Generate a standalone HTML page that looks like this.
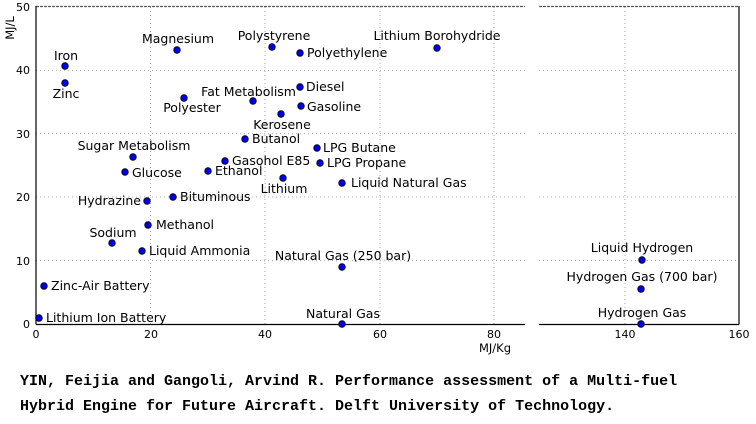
<!DOCTYPE html><html><head><meta charset="utf-8"><style>body{margin:0;background:#fff}svg{display:block}</style></head><body>
<svg width="756" height="424" xmlns="http://www.w3.org/2000/svg" font-family="DejaVu Sans, Liberation Sans, sans-serif" font-size="12.5">
<g stroke="#aaa" stroke-width="1" stroke-dasharray="1,3">
<line x1="150.5" y1="7" x2="150.5" y2="324"/><line x1="265" y1="7" x2="265" y2="324"/><line x1="380" y1="7" x2="380" y2="324"/><line x1="494" y1="7" x2="494" y2="324"/>
<line x1="625" y1="7" x2="625" y2="324"/>
<line x1="36" y1="260.6" x2="525" y2="260.6"/><line x1="36" y1="197" x2="525" y2="197"/><line x1="36" y1="133.8" x2="525" y2="133.8"/><line x1="36" y1="70.4" x2="525" y2="70.4"/>
<line x1="539" y1="260.6" x2="739" y2="260.6"/><line x1="539" y1="197" x2="739" y2="197"/><line x1="539" y1="133.8" x2="739" y2="133.8"/><line x1="539" y1="70.4" x2="739" y2="70.4"/>
</g>
<g stroke="#555" stroke-width="1.2" stroke-dasharray="3,1"><line x1="36" y1="6.5" x2="525" y2="6.5"/><line x1="539" y1="6.5" x2="739" y2="6.5"/></g>
<g stroke="#000" stroke-width="1.2" fill="none">
<line x1="36" y1="6" x2="36" y2="324.5"/><line x1="36" y1="324.5" x2="525" y2="324.5"/>
<line x1="539" y1="324.5" x2="739" y2="324.5"/><line x1="739" y1="6" x2="739" y2="324.5"/>
</g>
<g font-size="11" fill="#000">
<text x="30" y="328" text-anchor="end">0</text><text x="30" y="265" text-anchor="end">10</text><text x="30" y="201" text-anchor="end">20</text><text x="30" y="138" text-anchor="end">30</text><text x="30" y="74" text-anchor="end">40</text><text x="30" y="11" text-anchor="end">50</text>
<text x="36" y="338" text-anchor="middle">0</text><text x="151" y="338" text-anchor="middle">20</text><text x="265" y="338" text-anchor="middle">40</text><text x="380" y="338" text-anchor="middle">60</text><text x="494" y="338" text-anchor="middle">80</text>
<text x="625" y="338" text-anchor="middle">140</text><text x="739" y="338" text-anchor="middle">160</text>
</g>
<text x="495" y="352" text-anchor="middle" font-size="11.5">MJ/Kg</text>
<text transform="translate(14,28) rotate(-90)" text-anchor="middle" font-size="11.5">MJ/L</text>
<g fill="#0000ee" stroke="#000" stroke-width="0.8">
<circle cx="65" cy="66" r="3.3"/><circle cx="65" cy="83" r="3.3"/><circle cx="177" cy="50" r="3.3"/><circle cx="272" cy="47" r="3.3"/><circle cx="300" cy="53" r="3.3"/><circle cx="437" cy="48" r="3.3"/><circle cx="300" cy="87" r="3.3"/><circle cx="253" cy="101" r="3.3"/><circle cx="184" cy="98" r="3.3"/><circle cx="301" cy="106" r="3.3"/><circle cx="281" cy="114" r="3.3"/><circle cx="245" cy="139" r="3.3"/><circle cx="133" cy="157" r="3.3"/><circle cx="125" cy="172" r="3.3"/><circle cx="225" cy="161" r="3.3"/><circle cx="208" cy="171" r="3.3"/><circle cx="317" cy="148" r="3.3"/><circle cx="320" cy="163" r="3.3"/><circle cx="283" cy="178" r="3.3"/><circle cx="342" cy="183" r="3.3"/><circle cx="147" cy="201" r="3.3"/><circle cx="173" cy="197" r="3.3"/><circle cx="148" cy="225" r="3.3"/><circle cx="112" cy="243" r="3.3"/><circle cx="142" cy="251" r="3.3"/><circle cx="342" cy="267" r="3.3"/><circle cx="44" cy="286" r="3.3"/><circle cx="39" cy="318" r="3.3"/><circle cx="342" cy="324" r="3.3"/><circle cx="642" cy="260" r="3.3"/><circle cx="641" cy="289" r="3.3"/><circle cx="641" cy="324" r="3.3"/>
</g>
<g fill="#000">
<text x="66" y="60" text-anchor="middle">Iron</text>
<text x="66" y="98" text-anchor="middle">Zinc</text>
<text x="178" y="43" text-anchor="middle">Magnesium</text>
<text x="274" y="40" text-anchor="middle">Polystyrene</text>
<text x="307" y="57">Polyethylene</text>
<text x="437" y="40" text-anchor="middle">Lithium Borohydride</text>
<text x="306" y="91">Diesel</text>
<text x="296" y="96" text-anchor="end">Fat Metabolism</text>
<text x="192" y="112" text-anchor="middle">Polyester</text>
<text x="307" y="111">Gasoline</text>
<text x="282" y="129" text-anchor="middle">Kerosene</text>
<text x="252" y="143">Butanol</text>
<text x="134" y="150" text-anchor="middle">Sugar Metabolism</text>
<text x="132" y="177">Glucose</text>
<text x="232" y="165">Gasohol E85</text>
<text x="215" y="175">Ethanol</text>
<text x="323" y="152">LPG Butane</text>
<text x="327" y="167">LPG Propane</text>
<text x="284" y="193" text-anchor="middle">Lithium</text>
<text x="351" y="187">Liquid Natural Gas</text>
<text x="141" y="205" text-anchor="end">Hydrazine</text>
<text x="180" y="201">Bituminous</text>
<text x="156" y="229">Methanol</text>
<text x="113" y="237" text-anchor="middle">Sodium</text>
<text x="149" y="255">Liquid Ammonia</text>
<text x="343" y="260" text-anchor="middle">Natural Gas (250 bar)</text>
<text x="51" y="290">Zinc-Air Battery</text>
<text x="46" y="322">Lithium Ion Battery</text>
<text x="343" y="318" text-anchor="middle">Natural Gas</text>
<text x="642" y="252" text-anchor="middle">Liquid Hydrogen</text>
<text x="642" y="281" text-anchor="middle">Hydrogen Gas (700 bar)</text>
<text x="642" y="317" text-anchor="middle">Hydrogen Gas</text>
</g>
<g font-family="Liberation Mono, monospace" font-weight="bold" font-size="15">
<text x="20" y="385">YIN, Feijia and Gangoli, Arvind R. Performance assessment of a Multi-fuel</text>
<text x="20" y="410">Hybrid Engine for Future Aircraft. Delft University of Technology.</text>
</g>
</svg></body></html>
